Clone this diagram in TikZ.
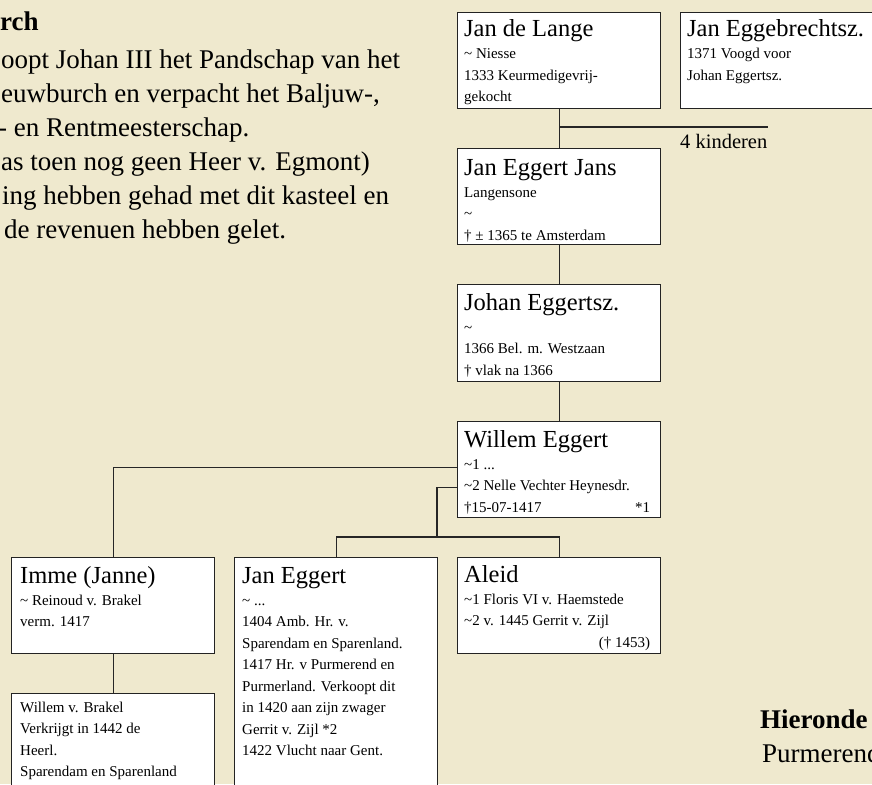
\documentclass[tikz,border=0pt]{standalone}
\usepackage{fontspec}
\setmainfont{Liberation Serif}
\usetikzlibrary{calc}
\definecolor{parch}{RGB}{239,233,206}
\definecolor{boxline}{RGB}{35,35,35}
\newcommand{\nm}[1]{\hbox{\fontsize{24.5}{28}\selectfont #1}\vskip 0.5pt}
\newcommand{\tld}{\textasciitilde}
\newcommand{\entrylines}[1]{\vtop{\hsize=190pt\fontsize{15}{21.5}\selectfont\lineskiplimit=-100pt\lineskip=0pt #1}}
\newcommand{\bigtext}[1]{\vtop{\hsize=500pt\fontsize{27}{34}\selectfont\lineskiplimit=-100pt\lineskip=0pt #1}}
\tikzset{
  famBox/.style={draw=boxline, line width=1.2pt, fill=white, anchor=north west,
    inner sep=0pt, minimum width=203pt, minimum height=96pt},
  famText/.style={anchor=base west, inner sep=0pt, text=black},
  link/.style={draw=black!85, line width=1.1pt}
}
\begin{document}
\begin{tikzpicture}[x=1pt,y=-1pt]
\useasboundingbox (0,0) rectangle (872,784);
\clip (0,0) rectangle (872,784);
\fill[parch] (0,0) rectangle (872,784);

% boxes
\node[famBox] (jdl) at (457,12) {};
\node[famBox] (jeb) at (680,12) {};
\node[famBox] (jej) at (457,148) {};
\node[famBox, minimum height=97pt] (jo) at (457,284) {};
\node[famBox] (wil) at (457,421) {};
\node[famBox] (al) at (457,557) {};
\node[famBox] (imme) at (11,557) {};
\node[famBox, minimum height=250pt] (je) at (234,557) {};
\node[famBox] (wvb) at (11,693) {};

% connectors
\coordinate (kj) at (559,127);
\coordinate (k4) at (768,127);
\coordinate (m2) at (437,537);
\draw[link] (jdl.south) -- (jej.north);
\draw[link] (kj) -- (k4);
\draw[link] (jej.south) -- (jo.north);
\draw[link] (jo.south) -- (wil.north);
\draw[link] ([yshift=2pt]wil.west) -| (imme.north);
\draw[link] ([yshift=-18pt]wil.west) -| (m2);
\draw[link] (je.north) |- (al.north |- m2) -- (al.north);
\draw[link] (imme.south) -- (wvb.north);

% texts in boxes
\node[famText] (tjdl) at (464,37) {\entrylines{\nm{Jan de Lange}
  \hbox{\tld\ Niesse}\hbox{1333 Keurmedigevrij-}\hbox{gekocht}}};
\node[famText] (tjeb) at (687,37) {\entrylines{\nm{Jan Eggebrechtsz.}
  \hbox{1371 Voogd voor}\hbox{Johan Eggertsz.}}};
\node[famText] (tjej) at (464,175) {\entrylines{\nm{Jan Eggert Jans}
  \hbox{Langensone}\hbox{\tld}\hbox{† ± 1365 te Amsterdam}}};
\node[famText] (tjo) at (464,310) {\entrylines{\nm{Johan Eggertsz.}
  \hbox{\tld}\hbox{1366 Bel. m. Westzaan}\hbox{† vlak na 1366}}};
\node[famText] (twil) at (464,447) {\entrylines{\nm{Willem Eggert}
  \hbox{\tld1 ...}\hbox{\tld2 Nelle Vechter Heynesdr.}\hbox to 186pt{†15-07-1417\hfil *1}}};
\node[famText] (tal) at (464,582) {\entrylines{\nm{Aleid}
  \hbox{\tld1 Floris VI v. Haemstede}\hbox{\tld2 v. 1445 Gerrit v. Zijl}\hbox to 186pt{\hfil († 1453)}}};
\node[famText] (timme) at (20,583) {\entrylines{\nm{Imme (Janne)}
  \hbox{\tld\ Reinoud v. Brakel}\hbox{verm. 1417}}};
\node[famText] (tje) at (242,583) {\entrylines{\nm{Jan Eggert}
  \hbox{\tld\ ...}\hbox{1404 Amb. Hr. v.}\hbox{Sparendam en Sparenland.}
  \hbox{1417 Hr. v Purmerend en}\hbox{Purmerland. Verkoopt dit}
  \hbox{in 1420 aan zijn zwager}\hbox{Gerrit v. Zijl *2}\hbox{1422 Vlucht naar Gent.}}};
\node[famText] (twvb) at (20,712) {\entrylines{\hbox{Willem v. Brakel}
  \hbox{Verkrijgt in 1442 de}\hbox{Heerl.}\hbox{Sparendam en Sparenland}}};

\node[famText, font=\fontsize{20.5}{24}\selectfont] (kind) at (680,148) {4 kinderen};

% free text
\node[famText] (left) at (0,31) {\bigtext{\hbox{\bfseries rch}\vskip 3pt
  \hbox{\kern1pt oopt Johan III het Pandschap van het}
  \hbox{\kern1pt euwburch en verpacht het Baljuw-,}
  \hbox{\kern-2pt - en Rentmeesterschap.}
  \hbox{\kern1pt as toen nog geen Heer v. Egmont)}
  \hbox{\kern2pt ing hebben gehad met dit kasteel en}
  \hbox{\kern4pt de revenuen hebben gelet.}}};
\node[famText] (right) at (760,728) {\bigtext{\hbox{\bfseries Hieronde}
  \hbox{\kern2pt Purmerend}}};
\end{tikzpicture}
\end{document}
